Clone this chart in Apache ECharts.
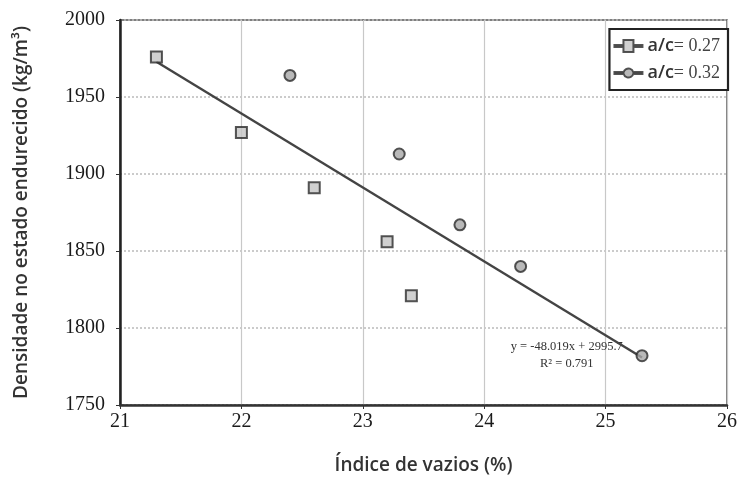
<!DOCTYPE html>
<html>
<head>
<meta charset="utf-8">
<script src="https://cdn.jsdelivr.net/npm/echarts@6/dist/echarts.min.js"></script>
<style>html,body{margin:0;padding:0;background:#fff}#c{width:740px;height:492px}</style>
</head>
<body>
<div id="c"></div>
<script>
// a/c = 0.27 series: void index (%) and hardened density (kg/m3)
const voids027 = [21.3, 22.0, 22.6, 23.2, 23.4];
const dens027 = [1976, 1927, 1891, 1856, 1821];
// a/c = 0.32 series
const voids032 = [22.4, 23.3, 23.8, 24.3, 25.3];
const dens032 = [1964, 1913, 1867, 1840, 1782];
// linear fit y = slope * x + intercept over the data range
const fitSlope = -48.019;
const fitIntercept = 2995.7;
const fitR2 = 0.791;
const fitRange = [21.3, 25.3];
const xTicks = [21, 22, 23, 24, 25, 26];
const yTicks = [1750, 1800, 1850, 1900, 1950, 2000];

const pairs = (xs, ys) => xs.map((x, i) => [x, ys[i]]);
const fitLine = fitRange.map(x => [x, fitSlope * x + fitIntercept]);

const serif = 'Liberation Serif';
const sans = 'Open Sans';

const chart = echarts.init(document.getElementById('c'), null, {renderer: 'canvas'});
chart.setOption({
  animation: false,
  backgroundColor: '#ffffff',
  grid: {left: 120, right: 12, top: 20, bottom: 87, show: true, borderColor: '#555', borderWidth: 1.5},
  xAxis: {
    type: 'value', min: xTicks[0], max: xTicks[xTicks.length - 1], interval: 1,
    axisLine: {onZero: false, lineStyle: {color: '#333', width: 2.5}},
    axisTick: {show: true, inside: false, length: 4, lineStyle: {color: '#333'}},
    axisLabel: {fontFamily: serif, fontSize: 20, color: '#1a1a1a', margin: 7, formatter: v => String(v)},
    splitLine: {show: true, lineStyle: {color: '#c8c8c8', width: 1.2}},
    name: 'Índice de vazios (%)', nameLocation: 'middle', nameGap: 51,
    nameTextStyle: {fontFamily: sans, fontSize: 19, fontWeight: 600, color: '#333'}
  },
  yAxis: {
    type: 'value', min: yTicks[0], max: yTicks[yTicks.length - 1], interval: 50,
    axisLine: {onZero: false, lineStyle: {color: '#222', width: 2.5}},
    axisTick: {show: true, length: 4, lineStyle: {color: '#333'}},
    axisLabel: {fontFamily: serif, fontSize: 20, color: '#1a1a1a', margin: 15, formatter: v => String(v)},
    splitLine: {show: true, lineStyle: {color: '#bbb', width: 1.5, type: [2, 2]}},
    name: 'Densidade no estado endurecido (kg/m³)', nameLocation: 'middle', nameGap: 89,
    nameTextStyle: {fontFamily: sans, fontSize: 19, fontWeight: 600, color: '#333'}
  },
  legend: {
    right: 12, top: 29, orient: 'vertical', itemGap: 9,
    itemWidth: 28, itemHeight: 13,
    backgroundColor: '#fff', borderColor: '#222', borderWidth: 2.2, padding: [8, 8, 8, 4],
    textStyle: {
      fontSize: 18, color: '#333',
      rich: {
        a: {fontFamily: sans, fontSize: 18, fontWeight: 600, color: '#333'},
        v: {fontFamily: serif, fontSize: 18, color: '#444'}
      }
    },
    formatter: name => '{a|a/c}{v|= ' + name.split('=')[1].trim() + '}',
    data: [
      {name: 'a/c = 0.27', icon: 'path://M0,5H9V0H19V5H28V7H19V12H9V7H0Z'},
      {name: 'a/c = 0.32', icon: 'path://M0,5H9.2A5,5 0 0 1 18.8,5H28V7H18.8A5,5 0 0 1 9.2,7H0Z'}
    ]
  },
  series: [
    {
      name: 'fit', type: 'line', data: fitLine, symbol: 'none', silent: true,
      lineStyle: {color: '#444', width: 2.4}, z: 1
    },
    {
      name: 'a/c = 0.27', type: 'scatter', data: pairs(voids027, dens027),
      symbol: 'rect', symbolSize: 11,
      itemStyle: {color: '#c4c4c4', borderColor: '#2a2a2a', borderWidth: 2}, z: 3
    },
    {
      name: 'a/c = 0.32', type: 'scatter', data: pairs(voids032, dens032),
      symbol: 'circle', symbolSize: 11,
      itemStyle: {color: '#a8a8a8', borderColor: '#2a2a2a', borderWidth: 2}, z: 3
    }
  ]
});

// equation label placed just left of the last fitted point
const anchor = chart.convertToPixel({gridIndex: 0}, [24.68, 1790]);
chart.setOption({
  graphic: [{
    type: 'text', x: anchor[0], y: anchor[1] - 5,
    style: {
      text: 'y = ' + fitSlope.toFixed(3) + 'x + ' + fitIntercept + '\nR² = ' + fitR2,
      font: '12.5px ' + serif, fill: '#333', align: 'center', verticalAlign: 'top', lineHeight: 17
    }
  }]
});
</script>
</body>
</html>
